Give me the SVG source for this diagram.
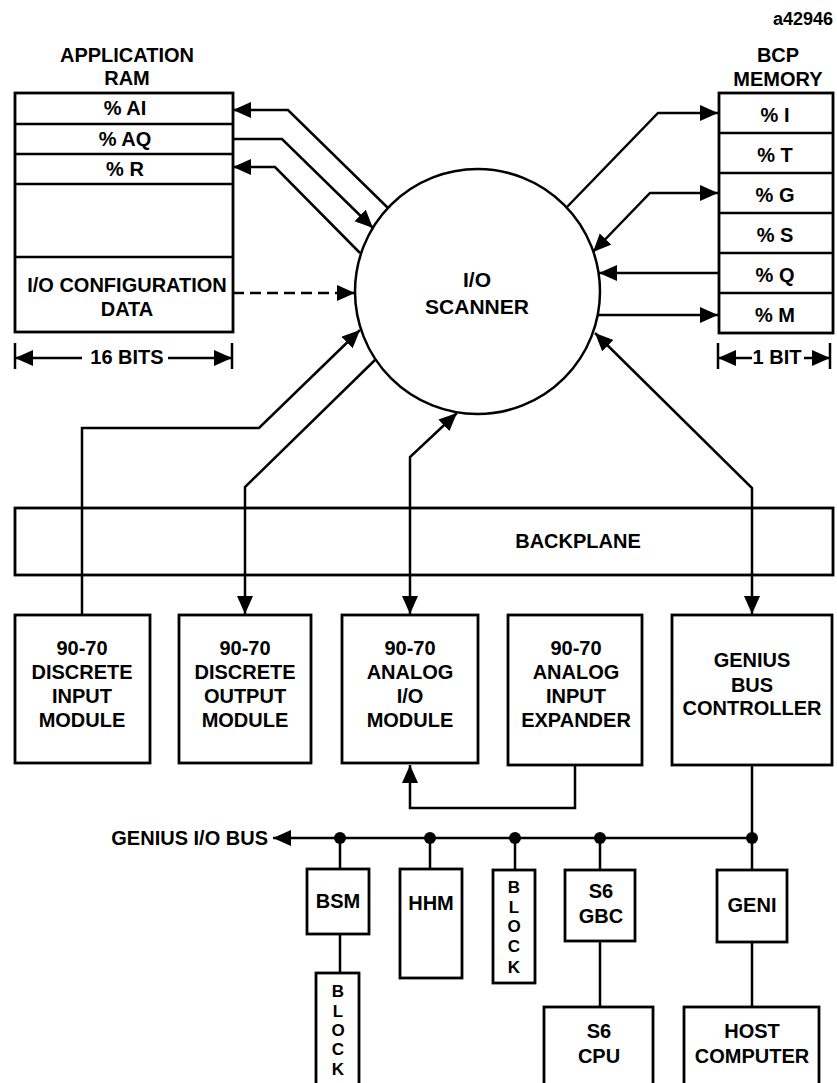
<svg xmlns="http://www.w3.org/2000/svg" width="837" height="1083" viewBox="0 0 837 1083">
<defs>
<style>
.t{font-family:"Liberation Sans",Arial,sans-serif;font-weight:bold;font-size:20px;fill:#000;text-anchor:middle}
.s{font-size:17px}
.bx{fill:#fff;stroke:#000;stroke-width:2.8}
.ln{fill:none;stroke:#000;stroke-width:2.5}
.ar{marker-end:url(#ah)}
.ar2{marker-start:url(#ah);marker-end:url(#ah)}
.dash{stroke-dasharray:11 6}
</style>
<marker id="ah" markerUnits="userSpaceOnUse" markerWidth="20" markerHeight="18" refX="18" refY="8" orient="auto-start-reverse" viewBox="0 0 20 18">
<path d="M0,0 L18,8 L0,16 Z" fill="#000"/>
</marker>
</defs>
<rect width="837" height="1083" fill="#fff"/>

<text class="t" x="773" y="25" style="text-anchor:start;font-size:18px">a42946</text>

<g id="app-ram">
<text class="t" x="127" y="62">APPLICATION</text>
<text class="t" x="127" y="85">RAM</text>
<rect class="bx" x="15" y="93" width="218" height="239"/>
<line class="ln" x1="15" y1="124" x2="233" y2="124"/>
<line class="ln" x1="15" y1="154" x2="233" y2="154"/>
<line class="ln" x1="15" y1="184" x2="233" y2="184"/>
<line class="ln" x1="15" y1="257" x2="233" y2="257"/>
<text class="t" x="125" y="115">% AI</text>
<text class="t" x="125" y="146">% AQ</text>
<text class="t" x="125" y="176">% R</text>
<text class="t" x="127" y="292">I/O CONFIGURATION</text>
<text class="t" x="127" y="316">DATA</text>
<line class="ln" x1="15" y1="343" x2="15" y2="369"/>
<line class="ln" x1="232" y1="343" x2="232" y2="369"/>
<line class="ln ar" x1="82" y1="358" x2="15" y2="358"/>
<line class="ln ar" x1="168" y1="358" x2="232" y2="358"/>
<text class="t" x="127" y="364">16 BITS</text>
</g>

<g id="bcp-memory">
<text class="t" x="778" y="62">BCP</text>
<text class="t" x="778" y="86">MEMORY</text>
<rect class="bx" x="719" y="93" width="114" height="240"/>
<line class="ln" x1="719" y1="133" x2="833" y2="133"/>
<line class="ln" x1="719" y1="173" x2="833" y2="173"/>
<line class="ln" x1="719" y1="213" x2="833" y2="213"/>
<line class="ln" x1="719" y1="253" x2="833" y2="253"/>
<line class="ln" x1="719" y1="293" x2="833" y2="293"/>
<text class="t" x="775" y="122">% I</text>
<text class="t" x="775" y="162">% T</text>
<text class="t" x="775" y="202">% G</text>
<text class="t" x="775" y="242">% S</text>
<text class="t" x="775" y="282">% Q</text>
<text class="t" x="775" y="322">% M</text>
<line class="ln" x1="718" y1="343" x2="718" y2="369"/>
<line class="ln" x1="830" y1="343" x2="830" y2="369"/>
<line class="ln ar" x1="752" y1="358" x2="718" y2="358"/>
<line class="ln ar" x1="804" y1="358" x2="830" y2="358"/>
<text class="t" x="777" y="364">1 BIT</text>
</g>

<g id="io-scanner">
<circle class="bx" cx="477.5" cy="291.5" r="122.5" style="stroke-width:2.5"/>
<text class="t" x="477" y="287" style="font-size:21px">I/O</text>
<text class="t" x="477" y="314" style="font-size:21px">SCANNER</text>
</g>

<g id="backplane">
<rect class="bx" x="15" y="508" width="818" height="67"/>
<text class="t" x="578" y="548">BACKPLANE</text>
</g>

<g id="discrete-input">
<rect class="bx" x="15" y="615" width="135" height="148"/>
<text class="t" x="82" y="655">90-70</text>
<text class="t" x="82" y="679">DISCRETE</text>
<text class="t" x="82" y="703">INPUT</text>
<text class="t" x="82" y="727">MODULE</text>
</g>
<g id="discrete-output">
<rect class="bx" x="179" y="615" width="132" height="148"/>
<text class="t" x="245" y="655">90-70</text>
<text class="t" x="245" y="679">DISCRETE</text>
<text class="t" x="245" y="703">OUTPUT</text>
<text class="t" x="245" y="727">MODULE</text>
</g>
<g id="analog-io">
<rect class="bx" x="342" y="615" width="136" height="148"/>
<text class="t" x="410" y="655">90-70</text>
<text class="t" x="410" y="679">ANALOG</text>
<text class="t" x="410" y="703">I/O</text>
<text class="t" x="410" y="727">MODULE</text>
</g>
<g id="analog-expander">
<rect class="bx" x="508" y="615" width="134" height="150"/>
<text class="t" x="576" y="655">90-70</text>
<text class="t" x="576" y="679">ANALOG</text>
<text class="t" x="576" y="703">INPUT</text>
<text class="t" x="576" y="727">EXPANDER</text>
</g>
<g id="genius-bus-controller">
<rect class="bx" x="672" y="615" width="160" height="150"/>
<text class="t" x="752" y="667">GENIUS</text>
<text class="t" x="752" y="692">BUS</text>
<text class="t" x="752" y="715">CONTROLLER</text>
</g>

<g id="bus-label">
<text class="t" x="268" y="845" style="text-anchor:end">GENIUS I/O BUS</text>
</g>

<g id="bsm">
<rect class="bx" x="307" y="869" width="62" height="65"/>
<text class="t" x="338" y="908">BSM</text>
</g>
<g id="block-lower">
<rect class="bx" x="316" y="973" width="43" height="120"/>
<text class="t s" x="338"><tspan x="338" y="997">B</tspan><tspan x="338" y="1017">L</tspan><tspan x="338" y="1036">O</tspan><tspan x="338" y="1055">C</tspan><tspan x="338" y="1075">K</tspan></text>
</g>
<g id="hhm">
<rect class="bx" x="400" y="869" width="62" height="109"/>
<text class="t" x="431" y="910">HHM</text>
</g>
<g id="block-upper">
<rect class="bx" x="493" y="870" width="42" height="113"/>
<text class="t s" x="514"><tspan x="514" y="893">B</tspan><tspan x="514" y="913">L</tspan><tspan x="514" y="932">O</tspan><tspan x="514" y="952">C</tspan><tspan x="514" y="973">K</tspan></text>
</g>
<g id="s6-gbc">
<rect class="bx" x="565" y="870" width="70" height="71"/>
<text class="t" x="601" y="898">S6</text>
<text class="t" x="601" y="923">GBC</text>
</g>
<g id="geni">
<rect class="bx" x="717" y="870" width="70" height="72"/>
<text class="t" x="752" y="912">GENI</text>
</g>
<g id="s6-cpu">
<rect class="bx" x="544" y="1007" width="109" height="90"/>
<text class="t" x="599" y="1038">S6</text>
<text class="t" x="599" y="1063">CPU</text>
</g>
<g id="host-computer">
<rect class="bx" x="684" y="1007" width="135" height="90"/>
<text class="t" x="752" y="1038">HOST</text>
<text class="t" x="752" y="1063">COMPUTER</text>
</g>

<g id="connectors">
<path class="ln ar" d="M388,208 L288,110 L233,110"/>
<path class="ln ar" d="M233,139 L282,139 L373,228"/>
<path class="ln ar" d="M360,253 L275,167 L233,167"/>
<path class="ln ar dash" d="M233,293 L355,293"/>
<path class="ln ar" d="M567,207 L658,113 L718,113"/>
<path class="ln ar2" d="M593,252 L650,193 L718,193"/>
<path class="ln ar" d="M718,273 L599,273"/>
<path class="ln ar" d="M598,315 L718,315"/>
<path class="ln ar2" d="M595,333 L752,488 L752,614"/>
<path class="ln ar" d="M82,615 L82,428 L259,428 L360,330"/>
<path class="ln ar" d="M375,360 L245,487 L245,614"/>
<path class="ln ar2" d="M457,413 L410,457 L410,614"/>
<path class="ln ar" d="M575,765 L575,808 L410,808 L410,765"/>
<path class="ln ar" d="M752,838 L273,838"/>
<path class="ln" d="M752,765 L752,870 M752,942 L752,1007"/>
<path class="ln" d="M340,838 L340,869 M340,934 L340,973"/>
<path class="ln" d="M430,838 L430,869"/>
<path class="ln" d="M515,838 L515,870"/>
<path class="ln" d="M600,838 L600,870 M600,941 L600,1007"/>
<circle cx="340" cy="838" r="6"/>
<circle cx="430" cy="838" r="6"/>
<circle cx="515" cy="838" r="6"/>
<circle cx="600" cy="838" r="6"/>
<circle cx="752" cy="838" r="6"/>
</g>
</svg>
